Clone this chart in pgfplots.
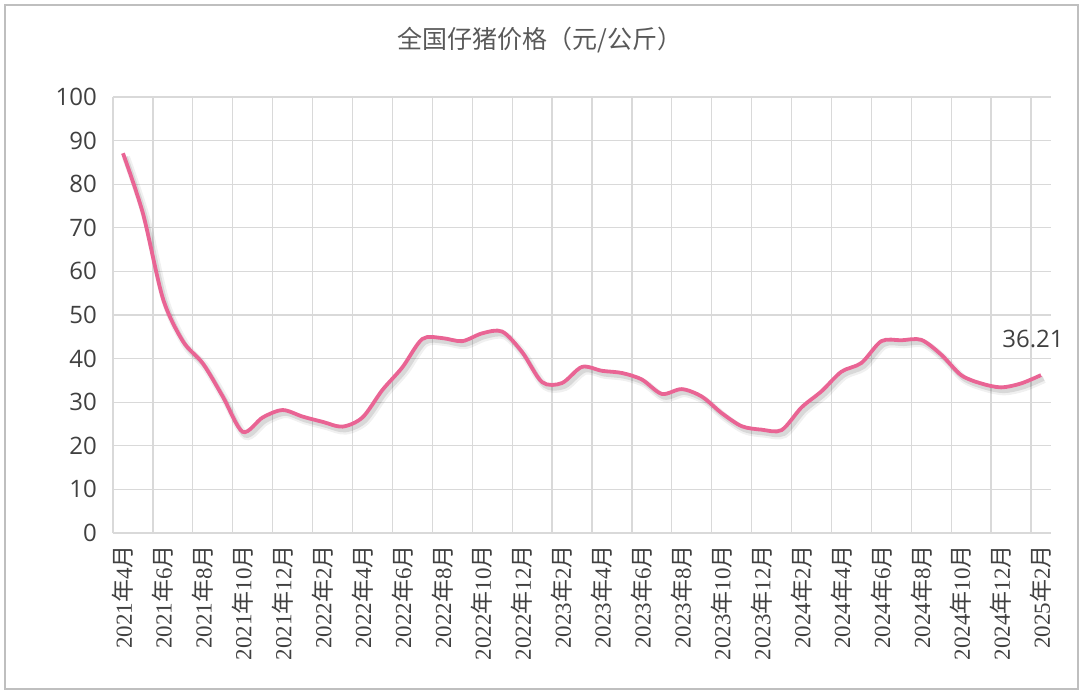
\documentclass[border=0pt]{standalone}
\usepackage{pgfplots}
\usepackage{pgfplotstable}
\pgfplotsset{compat=1.18}
\usepackage{fontspec}
\setmainfont{Liberation Serif}
\newfontfamily\cjk{Noto Sans CJK SC}
\newfontfamily\sansf{Open Sans}
\definecolor{linepink}{RGB}{233,100,148}
\definecolor{gridgray}{RGB}{217,217,217}
\definecolor{txt}{RGB}{64,64,64}
\definecolor{ttl}{RGB}{89,89,89}
\definecolor{frame}{RGB}{191,191,191}
\newcommand\xl[2]{#1{\cjk 年}#2{\cjk 月}}

\pgfplotstableread{
i v
0 87.1
1 73.3
2 53.8
3 44.0
4 38.9
5 31.3
6 23.2
7 26.5
8 28.2
9 26.7
10 25.5
11 24.4
12 26.5
13 32.8
14 38.0
15 44.5
16 44.7
17 44.0
18 45.8
19 46.2
20 41.5
21 34.6
22 34.4
23 38.1
24 37.2
25 36.7
26 35.2
27 31.9
28 33.0
29 31.3
30 27.5
31 24.5
32 23.7
33 23.6
34 28.8
35 32.5
36 37.0
37 39.0
38 44.0
39 44.2
40 44.3
41 40.9
42 36.2
43 34.3
44 33.4
45 34.3
46 36.21
}\pricedata

\begin{document}
\begin{tikzpicture}
\path[use as bounding box] (-113pt,-158pt) rectangle (967pt,533pt);
\draw[line width=2pt, frame] (-108pt,-156pt) rectangle (965pt,528pt);
\begin{axis}[
  at={(0pt,0pt)}, anchor=south west, scale only axis,
  width=938pt, height=436pt,
  xmin=-0.5, xmax=46.5, ymin=0, ymax=100,
  clip=false,
  axis line style={draw=none},
  major tick length=0pt,
  ytick={0,10,...,100}, ymajorgrids=true,
  xtick={0,2,...,46}, xmajorgrids=false,
  xticklabels={\xl{2021}{4},\xl{2021}{6},\xl{2021}{8},\xl{2021}{10},\xl{2021}{12},
    \xl{2022}{2},\xl{2022}{4},\xl{2022}{6},\xl{2022}{8},\xl{2022}{10},\xl{2022}{12},
    \xl{2023}{2},\xl{2023}{4},\xl{2023}{6},\xl{2023}{8},\xl{2023}{10},\xl{2023}{12},
    \xl{2024}{2},\xl{2024}{4},\xl{2024}{6},\xl{2024}{8},\xl{2024}{10},\xl{2024}{12},
    \xl{2025}{2}},
  extra x ticks={-0.5,1.5,...,45.5},
  extra x tick labels={},
  extra x tick style={grid=major},
  grid style={gridgray, line width=1.3pt},
  /pgf/number format/assume math mode=true,
  yticklabel style={font=\sansf\fontsize{24}{26}\selectfont, text=txt, anchor=east, inner sep=0pt, xshift=-16pt},
  xticklabel style={font=\fontsize{23}{25}\selectfont, text=txt, rotate=90, anchor=east, inner ysep=0pt, inner xsep=12pt},
]
\addplot[smooth, draw=black, opacity=0.06, line width=8pt, xshift=3pt, yshift=-4pt] table[x=i,y=v] {\pricedata};
\addplot[smooth, draw=black, opacity=0.10, line width=4.5pt, xshift=2.5pt, yshift=-3.5pt] table[x=i,y=v] {\pricedata};
\addplot[smooth, draw=linepink, line width=3.8pt] table[x=i,y=v] {\pricedata};
\node[font=\sansf\fontsize{24}{26}\selectfont, text=txt, xshift=-8pt, yshift=36pt] at (axis cs:46,36.21) {36.21};
\end{axis}
\node[font=\cjk\fontsize{25}{28}\selectfont, text=ttl] at (427pt,493pt) {全国仔猪价格（元/公斤）};
\end{tikzpicture}
\end{document}
